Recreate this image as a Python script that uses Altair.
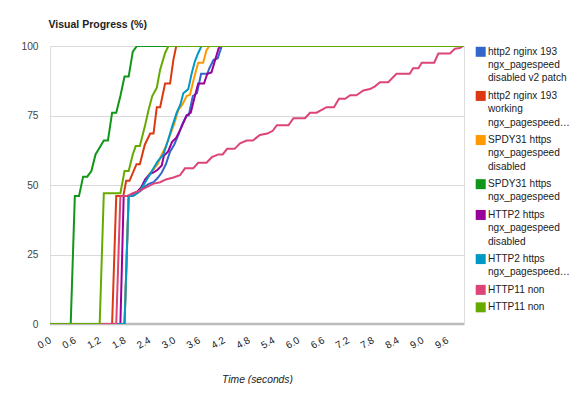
import altair as alt
import pandas as pd

SERIES = [
    "http2 nginx 193 ngx_pagespeed disabled v2 patch",
    "http2 nginx 193 working ngx_pagespeed",
    "SPDY31 https ngx_pagespeed disabled",
    "SPDY31 https ngx_pagespeed",
    "HTTP2 https ngx_pagespeed disabled",
    "HTTP2 https ngx_pagespeed",
    "HTTP11 non ssl ngx_pagespeed disabled",
    "HTTP11 non ssl ngx_pagespeed",
]
LEGEND_LINES = [
    ["http2 nginx 193", "ngx_pagespeed", "disabled v2 patch"],
    ["http2 nginx 193", "working", "ngx_pagespeed…"],
    ["SPDY31 https", "ngx_pagespeed", "disabled"],
    ["SPDY31 https", "ngx_pagespeed"],
    ["HTTP2 https", "ngx_pagespeed", "disabled"],
    ["HTTP2 https", "ngx_pagespeed…"],
    ["HTTP11 non"],
    ["HTTP11 non"],
]
COLORS = ["#3366cc", "#dc3912", "#ff9900", "#109618", "#990099", "#0099c6", "#dd4477", "#66aa00"]

T_BLUE = [0, 1.8, 1.9, 2.0, 2.1, 2.2, 2.3, 2.4, 2.5, 2.6, 2.7, 2.8, 2.9, 3.0, 3.1, 3.2, 3.3, 3.35, 3.45, 3.55, 3.65, 3.8, 3.85, 3.95, 4.05, 4.15, 10]
V_BLUE = [0, 0, 46, 46, 47, 48, 49.5, 50.5, 51, 52.5, 54.5, 57.5, 62, 64.5, 68, 72, 75, 75, 82, 83, 90, 90, 92, 95, 95.5, 100, 100]

T_RED = [0, 1.5, 1.6, 1.77, 1.84, 1.92, 2.09, 2.17, 2.29, 2.42, 2.5, 2.58, 2.66, 2.78, 2.9, 2.98, 3.05, 10]
V_RED = [0, 0, 46, 46, 51.5, 51.5, 57.5, 57.5, 64.5, 68.5, 68.5, 78, 78, 86.5, 86.5, 95, 100, 100]

T_ORANGE = [0, 1.8, 1.9, 2.0, 2.1, 2.2, 2.3, 2.4, 2.5, 2.6, 2.7, 2.8, 2.9, 3.0, 3.1, 3.2, 3.3, 3.38, 3.48, 3.58, 3.7, 3.78, 3.85, 10]
V_ORANGE = [0, 0, 46, 46, 47, 49, 51.5, 54, 55.5, 57.5, 61, 64, 68, 72, 77, 79, 82, 82.5, 88.5, 94, 94, 98.5, 100, 100]

T_GREEN = [0, 0.5, 0.6, 0.7, 0.8, 0.9, 1.0, 1.1, 1.2, 1.3, 1.4, 1.5, 1.6, 1.7, 1.8, 1.9, 2.0, 2.1, 10]
V_GREEN = [0, 0, 46, 46, 53, 53, 55, 61, 63.5, 66, 66, 76, 76, 82, 89, 89, 98, 100, 100]

T_PURPLE = [0, 1.7, 1.78, 1.9, 2.0, 2.1, 2.2, 2.3, 2.42, 2.5, 2.6, 2.7, 2.75, 2.85, 2.95, 3.05, 3.15, 3.3, 3.4, 3.5, 3.58, 3.72, 3.8, 3.9, 4.0, 4.07, 4.12, 10]
V_PURPLE = [0, 0, 46, 46, 47, 47.5, 49, 52, 54, 54.5, 55.5, 57, 60.5, 62, 65.5, 67, 70, 75, 76, 82, 86.5, 86.5, 90, 90.5, 95.5, 99, 100, 100]

T_TEAL = [0, 1.8, 1.9, 2.0, 2.1, 2.2, 2.3, 2.42, 2.5, 2.6, 2.74, 2.85, 2.95, 3.06, 3.15, 3.22, 3.34, 3.42, 3.5, 3.58, 3.66, 10]
V_TEAL = [0, 0, 46, 46, 47, 48.5, 51, 54, 56, 58.5, 61, 66, 71, 76, 79, 83, 84.5, 90, 94.5, 97.5, 100, 100]

T_PINK = [0, 1.6, 1.7, 1.85, 2.0, 2.17, 2.3, 2.5, 2.66, 2.8, 2.98, 3.14, 3.26, 3.46, 3.58, 3.78, 3.91, 4.07, 4.17,
          4.28, 4.46, 4.59, 4.75, 4.9, 5.07, 5.25, 5.38, 5.48, 5.76, 5.88, 6.16, 6.28, 6.44, 6.68, 6.86, 6.98, 7.13,
          7.25, 7.4, 7.57, 7.73, 7.85, 7.97, 8.17, 8.37, 8.69, 8.77, 8.9, 8.98, 9.28, 9.38, 9.66, 9.78, 9.9, 9.98, 10]
V_PINK = [0, 0, 46, 46, 47, 48, 49, 50.5, 51, 52, 52.7, 53.5, 56, 56, 58, 58, 60, 61, 61,
          63, 63, 65, 66, 66, 68, 68.5, 69.5, 71.5, 71.5, 74, 74, 76, 76, 78, 78, 81, 81,
          82.3, 82.3, 84, 84.5, 85.5, 87, 87, 90, 90, 92, 92, 94, 94, 97.3, 97.3, 99, 99.3, 100, 100]

T_LIME = [0, 1.2, 1.3, 1.7, 1.8, 1.9, 2.0, 2.07, 2.17, 2.29, 2.38, 2.47, 2.58, 2.66, 2.78, 2.86, 10]
V_LIME = [0, 0, 47, 47, 55, 55, 61, 64, 64, 71, 77, 82, 85, 91.5, 97.5, 100, 100]

X_TICKS = [0.0, 0.6, 1.2, 1.8, 2.4, 3.0, 3.6, 4.2, 4.8, 5.4, 6.0, 6.6, 7.2, 7.8, 8.4, 9.0, 9.6]
Y_TICKS = [0, 25, 50, 75, 100]

ALL_T = [T_BLUE, T_RED, T_ORANGE, T_GREEN, T_PURPLE, T_TEAL, T_PINK, T_LIME]
ALL_V = [V_BLUE, V_RED, V_ORANGE, V_GREEN, V_PURPLE, V_TEAL, V_PINK, V_LIME]

rows = []
for i, (name, ts, vs) in enumerate(zip(SERIES, ALL_T, ALL_V)):
    for j, (t, v) in enumerate(zip(ts, vs)):
        rows.append({"series": name, "order": i, "idx": j, "t": t, "v": v})
df = pd.DataFrame(rows)

# legend table: one row per text line, placed in "line slots"
ENTRY_GAP = 0.31
sym_rows, txt_rows = [], []
slot = 0.0
for name, lines_ in zip(SERIES, LEGEND_LINES):
    sym_rows.append({"series": name, "slot": slot})
    for k, l in enumerate(lines_):
        txt_rows.append({"series": name, "text": l, "slot": slot + k})
    slot += len(lines_) + ENTRY_GAP
sym_df = pd.DataFrame(sym_rows)
txt_df = pd.DataFrame(txt_rows)

FONT = "Liberation Sans"
LINE_PX = 13.33

x_scale = alt.Scale(domain=[0, 10], nice=False, zero=False)
y_scale = alt.Scale(domain=[0, 100], nice=False)
legend_y = alt.Scale(domain=[0, 20], range=[5.8, 5.8 + 20 * LINE_PX], nice=False, zero=False)
color_scale = alt.Scale(domain=SERIES, range=COLORS)

lines = alt.Chart(df).mark_line(strokeWidth=2, clip=True).encode(
    x=alt.X("t:Q", scale=x_scale,
            axis=alt.Axis(values=X_TICKS, format=".1f", title="Time (seconds)", grid=False,
                          domain=False, ticks=False, tickSize=0, labelAngle=330, labelAlign="right",
                          labelBaseline="middle", labelPadding=15, labelFontSize=10, labelColor="#222222",
                          labelFont=FONT, labelOverlap=False,
                          titleFont=FONT, titleFontSize=10.3, titleFontStyle="italic", titleFontWeight="normal",
                          titleColor="#222222", titleX=207, titleY=58, titleAlign="center",
                          titleBaseline="alphabetic")),
    y=alt.Y("v:Q", scale=y_scale,
            axis=alt.Axis(orient="left", values=Y_TICKS, title="Visual Progress (%)", grid=True,
                          gridColor="#d9d9d9", gridWidth=1, domain=False, ticks=False, tickSize=0,
                          labelPadding=12, labelFontSize=10.2, labelColor="#444444", labelFont=FONT,
                          titleFont=FONT, titleFontSize=10.5, titleFontWeight="bold", titleColor="#222222",
                          titleAngle=0, titleX=-2, titleY=-19, titleAlign="left", titleBaseline="alphabetic")),
    color=alt.Color("series:N", scale=color_scale, legend=None),
    order=alt.Order("idx:Q"),
    detail="order:O",
)

baseline = alt.Chart(pd.DataFrame({"y0": [0]})).mark_rule(color="#bbbbbb", strokeWidth=2.3).encode(
    y=alt.Y("y0:Q", scale=y_scale, axis=None)
)

legend_symbols = alt.Chart(sym_df).mark_square(size=100, opacity=1, strokeWidth=0).encode(
    x=alt.value(430.7),
    y=alt.Y("slot:Q", scale=legend_y, axis=None),
    color=alt.Color("series:N", scale=color_scale, legend=None),
)

legend_text = alt.Chart(txt_df).mark_text(align="left", baseline="middle", font=FONT, fontSize=10.1,
                                          color="#222222").encode(
    x=alt.value(438),
    y=alt.Y("slot:Q", scale=legend_y, axis=None),
    text="text:N",
)

chart = alt.layer(baseline, lines, legend_symbols, legend_text).resolve_scale(
    y="independent"
).properties(
    width=414, height=278,
    padding={"left": 42, "top": 38, "right": 106, "bottom": 60},
    autosize=alt.AutoSizeParams(type="none"),
).configure_view(stroke=None).configure(background="white")

chart.save("out.html", embed_options={"renderer": "svg", "actions": False})
